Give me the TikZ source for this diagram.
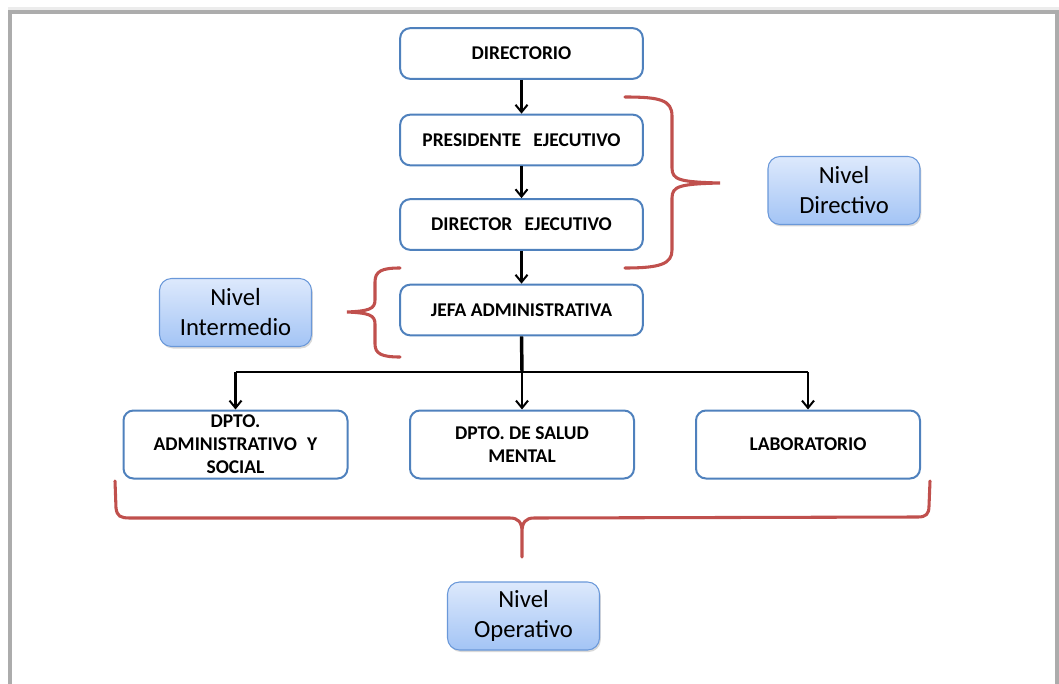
\documentclass[tikz,border=0pt]{standalone}
\usepackage{fontspec}
\setmainfont{Carlito}
\usetikzlibrary{arrows.meta,shadows}
\definecolor{boxblue}{HTML}{4F81BD}
\definecolor{bracered}{HTML}{C0504D}
\definecolor{lvltop}{HTML}{DDE9FC}
\definecolor{lvlbot}{HTML}{A3C4F5}
\definecolor{lvledge}{HTML}{6A98D9}

\begin{document}
\begin{tikzpicture}[x=0.75pt,y=-0.75pt,
  unit/.style={draw=boxblue,line width=1.5pt,rounded corners=7.5pt,fill=white,inner sep=0pt,
    minimum width=182pt,minimum height=38pt,align=center,font=\bfseries\fontsize{14.6}{17.25}\selectfont},
  dept/.style={unit,minimum width=168pt,minimum height=51pt},
  level/.style={draw=lvledge,line width=0.8pt,rounded corners=9pt,top color=lvltop,bottom color=lvlbot,
    inner sep=0pt,minimum width=114pt,minimum height=51pt,align=center,
    font=\fontsize{18.5}{22.5}\selectfont,
    drop shadow={shadow xshift=1pt,shadow yshift=-1.5pt,opacity=0.3}},
  link/.style={line width=1.8pt,-{Straight Barb[length=5.5pt,width=9pt,line width=1.5pt]}},
  brace/.style={draw=bracered,line width=2.3pt,line cap=round}]
\useasboundingbox (0,0) rectangle (1059,684);
\fill[gray!15] (8,7) rectangle (1059,10);
\draw[gray!65,line width=3pt] (10,684) -- (10,12) -- (1057,12) -- (1057,684);

\node[unit] (directorio) at (521.5,53.5) {DIRECTORIO};
\node[unit] (presidente) at (521.5,140) {PRESIDENTE\hspace{0.4em} EJECUTIVO};
\node[unit] (director) at (521.5,224.5) {DIRECTOR\hspace{0.4em} EJECUTIVO};
\node[unit] (jefa) at (521.5,310) {JEFA ADMINISTRATIVA};
\node[dept] (admin) at (235.5,444.5) {DPTO.\\ADMINISTRATIVO\hspace{0.3em} Y\\SOCIAL};
\node[dept] (salud) at (522,444.5) {DPTO. DE SALUD\\MENTAL};
\node[dept] (lab) at (808,444.5) {LABORATORIO};

\node[level] (directivo) at (844,190.5) {Nivel\\Directivo};
\node[level] (intermedio) at (235.5,312.5) {Nivel\\Intermedio};
\node[level] (operativo) at (523.5,616) {Nivel\\Operativo};

\draw[link] (directorio) -- (presidente);
\draw[link] (presidente) -- (director);
\draw[link] (director) -- (jefa);
\coordinate (hub) at (522,372);
\draw[line width=2.6pt] (jefa.south) -- (hub);
\draw[link] (hub) -- (salud);
\draw[line width=1.6pt] (admin.north |- hub) -- (lab.north |- hub);
\draw[link] (admin.north |- hub) -- (admin);
\draw[link] (lab.north |- hub) -- (lab);

\draw[brace] (625,97) .. controls (660,97) and (672,100) .. (672,116) -- (672,168)
  .. controls (672,180) and (680,182) .. (720,183)
  .. controls (680,184) and (672,186) .. (672,198) -- (672,250)
  .. controls (672,264) and (660,268) .. (625,268);
\draw[brace] (400,268) .. controls (382,268) and (375,271) .. (375,282) -- (375,300)
  .. controls (375,309) and (369,311) .. (347,312)
  .. controls (369,313) and (375,315) .. (375,324) -- (375,344)
  .. controls (375,354) and (382,357) .. (400,357);
\draw[brace] (115,481) -- (116,508) .. controls (117,516) and (120,518) .. (130,518) -- (510,518)
  .. controls (518,518) and (522,522) .. (522,532) -- (522,557)
  (522,532) .. controls (522,522) and (526,518) .. (534,518) -- (918,517)
  .. controls (926,517) and (929,514) .. (929,506) -- (930,481);
\end{tikzpicture}
\end{document}
